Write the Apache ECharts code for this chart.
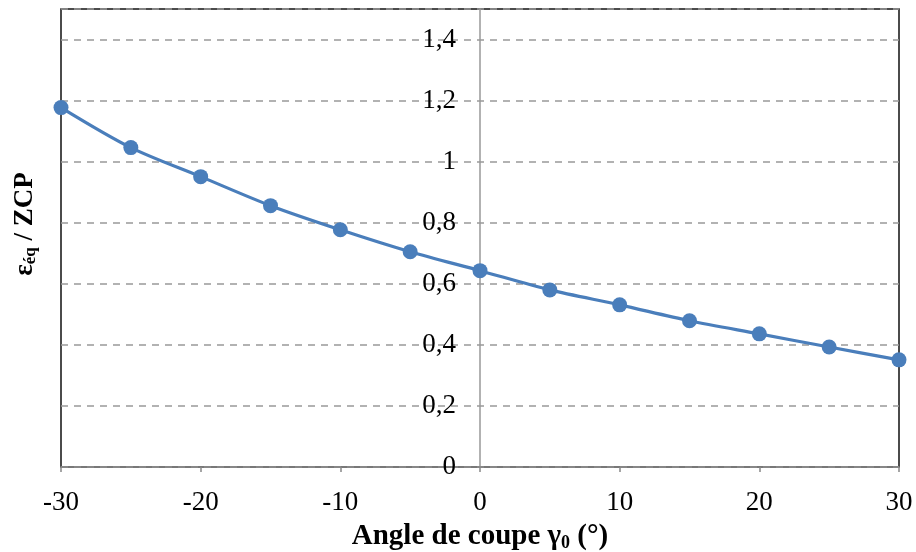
<!DOCTYPE html>
<html>
<head>
<meta charset="utf-8">
<script src="https://cdn.jsdelivr.net/npm/echarts@6/dist/echarts.min.js"></script>
<style>html,body{margin:0;padding:0;background:#fff}#c{width:916px;height:552px}</style>
</head>
<body>
<div id="c"></div>
<script>
const angles = [-30, -25, -20, -15, -10, -5, 0, 5, 10, 15, 20, 25, 30];
const ratio = [1.177, 1.046, 0.951, 0.856, 0.777, 0.705, 0.643, 0.580, 0.531, 0.479, 0.436, 0.393, 0.351];
const xTicks = { min: -30, max: 30, step: 10 };
const yTicks = { min: 0, max: 1.5, step: 0.2 };

const gridLeft = 61, gridRight = 17;
const plotW = 916 - gridLeft - gridRight;
const zeroOffset = -plotW * (0 - xTicks.min) / (xTicks.max - xTicks.min);

const chart = echarts.init(document.getElementById('c'), null, { renderer: 'canvas' });
const serif = '"Liberation Serif", "Times New Roman", serif';
const fmt = v => String(Math.round(v * 10) / 10).replace('.', ',');

chart.setOption({
  animation: false,
  backgroundColor: '#fff',
  textStyle: { fontFamily: serif },
  grid: { left: gridLeft, right: gridRight, top: 9, bottom: 85, containLabel: false, outerBoundsMode: 'none', show: true, borderColor: '#111', borderWidth: 1.5, backgroundColor: 'transparent' },
  xAxis: {
    type: 'value', min: xTicks.min, max: xTicks.max, interval: xTicks.step,
    axisLine: { onZero: false, lineStyle: { color: '#888', width: 1.5 } },
    axisTick: { show: true, inside: false, length: 5, lineStyle: { color: '#888', width: 1.5 } },
    axisLabel: { color: '#000', fontSize: 27, fontFamily: serif, margin: 22, formatter: v => String(v) },
    splitLine: { show: false },
    name: '{b|Angle de coupe γ}{s|0}{b| (°)}',
    nameLocation: 'middle', nameGap: 55,
    nameTextStyle: { rich: { b: { fontSize: 29, fontWeight: 'bold', fontFamily: serif, color: '#000' }, s: { fontSize: 18, fontWeight: 'bold', fontFamily: serif, color: '#000', padding: [12, 0, 0, 0] } } }
  },
  yAxis: {
    type: 'value', min: yTicks.min, max: yTicks.max, interval: yTicks.step,
    offset: zeroOffset,
    axisLine: { show: true, onZero: false, lineStyle: { color: '#999', width: 1.5 } },
    axisTick: { show: false },
    axisLabel: { color: '#000', fontSize: 27, fontFamily: serif, margin: 24, showMaxLabel: false, formatter: fmt },
    splitLine: { show: true, lineStyle: { color: '#999', width: 1.5, type: [7, 6] } }
  },
  graphic: [{
    type: 'text', x: 25, y: 224, rotation: Math.PI / 2,
    style: {
      text: '{b|ε}{s|éq}{b| / ZCP}',
      align: 'center', verticalAlign: 'middle',
      rich: { b: { fontSize: 27, fontWeight: 'bold', fontFamily: serif, fill: '#000' }, s: { fontSize: 17, fontWeight: 'bold', fontFamily: serif, fill: '#000', padding: [12, 0, 0, 0] } }
    }
  }],
  series: [{
    type: 'line', data: angles.map((a, i) => [a, ratio[i]]),
    smooth: 0.3, symbol: 'circle', symbolSize: 15,
    lineStyle: { color: '#4a7ebb', width: 3.2 },
    itemStyle: { color: '#4a7ebb' }
  }]
});
</script>
</body>
</html>
